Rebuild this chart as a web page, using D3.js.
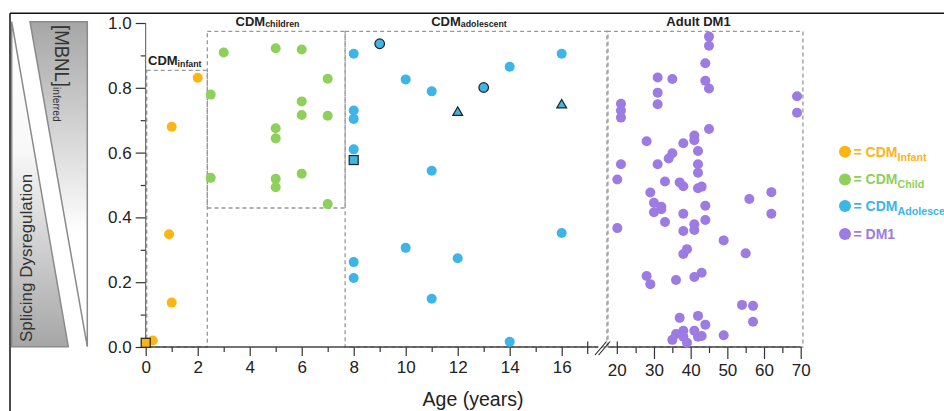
<!DOCTYPE html>
<html>
<head>
<meta charset="utf-8">
<script src="https://cdn.jsdelivr.net/npm/d3@7"></script>
<style>
  body { margin: 0; background: #fff; }
  svg { display: block; font-family: "Liberation Sans", Arial, sans-serif; }
</style>
</head>
<body>
<svg id="chart" width="944" height="411"></svg>
<script>
// ages (years) and inferred [MBNL] per group
const infantPts = [[0.27, 0.02], [1, 0.68], [0.9, 0.348], [1, 0.137], [2, 0.831]];
const infantSquares = [[0, 0.013]];

const childPts = [
    [2.5, 0.779], [3, 0.909], [2.5, 0.522], [5, 0.922], [6, 0.918], [7, 0.828],
    [6, 0.758], [6, 0.716], [7, 0.714], [5, 0.675], [5, 0.644], [5, 0.519],
    [5, 0.493], [6, 0.535], [7, 0.441]
];

const adolPts = [
    [8, 0.905], [16, 0.905], [14, 0.865], [10, 0.826], [11, 0.789], [8, 0.730],
    [8, 0.704], [8, 0.610], [11, 0.544], [16, 0.352], [10, 0.306], [12, 0.274],
    [8, 0.262], [8, 0.213], [11, 0.149], [14, 0.016]
];
const adolCircles = [[9, 0.936], [13, 0.801]];
const adolTriangles = [[12, 0.726], [16, 0.749]];
const adolSquares = [[8, 0.577]];

const dm1Pts = [
    [45, 0.958], [45, 0.930], [44, 0.876], [31, 0.832], [35, 0.827], [44, 0.822],
    [45, 0.798], [31, 0.785], [31, 0.749], [69, 0.774], [69, 0.723], [21, 0.751],
    [21, 0.730], [21, 0.708], [45, 0.673], [41, 0.653], [41, 0.638], [28, 0.635],
    [38, 0.629], [42, 0.605], [35, 0.598], [34, 0.582], [21, 0.564], [31, 0.564],
    [42, 0.564], [42, 0.538], [20, 0.517], [33, 0.511], [37, 0.508], [38, 0.496],
    [42, 0.490], [43, 0.495], [29, 0.477], [62, 0.478], [56, 0.457], [30, 0.445],
    [32, 0.433], [32, 0.425], [30, 0.416], [44, 0.436], [38, 0.411], [62, 0.411],
    [33, 0.386], [44, 0.392], [41, 0.379], [41, 0.361], [38, 0.358], [20, 0.367],
    [49, 0.329], [39, 0.302], [38, 0.287], [55, 0.289], [28, 0.219], [29, 0.194],
    [36, 0.207], [41, 0.216], [43, 0.229], [54, 0.130], [57, 0.127], [57, 0.078],
    [37, 0.090], [42, 0.096], [44, 0.069], [38, 0.050], [36, 0.040], [41, 0.050],
    [42, 0.032], [43, 0.034], [49, 0.036], [35, 0.022], [39, 0.013], [38, 0.032]
];

const yTicks = [0, 0.2, 0.4, 0.6, 0.8, 1.0];
const yMinor = [0.1, 0.3, 0.5, 0.7, 0.9];
const xTicksA = [0, 2, 4, 6, 8, 10, 12, 14, 16];
const xMinorA = [1, 3, 5, 7, 9, 11, 13, 15];
const xTicksB = [30, 40, 50, 60, 70];
const xMinorB = [25, 35, 45, 55, 65];

const groups = ['CDM', 'CDM', 'CDM', 'DM1'];
const groupSubs = ['Infant', 'Child', 'Adolescent', ''];
const colors = ['#FDB515', '#8DD05A', '#3DB5E6', '#9C7BE2'];

const svg = d3.select('#chart');
const defs = svg.append('defs');

const y = d3.scaleLinear().domain([0, 1]).range([347, 23]);
const xA = d3.scaleLinear().domain([0, 17]).range([145.7, 587.7]);
const xB = d3.scaleLinear().domain([20, 70]).range([617.3, 800.7]);

// panel frame
svg.append('line').attr('x1', 10).attr('x2', 944).attr('y1', 13.3).attr('y2', 13.3)
    .attr('stroke', '#111').attr('stroke-width', 1.5);
svg.append('line').attr('x1', 10).attr('x2', 10).attr('y1', 13.3).attr('y2', 411)
    .attr('stroke', '#111').attr('stroke-width', 1.5);

// gradient wedges on the left
let gl = defs.append('linearGradient').attr('id', 'gl')
    .attr('x1', 0).attr('y1', 1).attr('x2', 0).attr('y2', 0);
gl.append('stop').attr('offset', 0).attr('stop-color', '#a6a6a6');
gl.append('stop').attr('offset', 0.6).attr('stop-color', '#f8f8f8');
gl.append('stop').attr('offset', 1).attr('stop-color', '#ffffff');
let gr = defs.append('linearGradient').attr('id', 'gr')
    .attr('x1', 0).attr('y1', 0).attr('x2', 0).attr('y2', 1);
gr.append('stop').attr('offset', 0).attr('stop-color', '#a6a6a6');
gr.append('stop').attr('offset', 0.65).attr('stop-color', '#ffffff');

svg.append('path').attr('d', 'M11.7,21.7 L11.7,346.7 L68.3,346.7 Z')
    .attr('fill', 'url(#gl)').attr('stroke', '#8a8a8a').attr('stroke-width', 1.5);
svg.append('path').attr('d', 'M30,21.7 L87.3,21.7 L87.3,346.7 Z')
    .attr('fill', 'url(#gr)').attr('stroke', '#8a8a8a').attr('stroke-width', 1.5);

svg.append('text').attr('transform', 'translate(32,342) rotate(-90)')
    .attr('font-size', 17).attr('fill', '#333').text('Splicing Dysregulation');

let mb = svg.append('text').attr('transform', 'translate(55,25) rotate(90) scale(0.93,1)')
    .attr('fill', '#333');
mb.append('tspan').attr('font-size', 20).text('[MBNL]');
mb.append('tspan').attr('font-size', 11).attr('dy', 1.5).text('inferred');

// dashed group boxes
const boxes = [
    { x0: xA(0.04), x1: xA(2.37), y0: y(0), y1: y(0.854) },
    { x0: xA(2.37), x1: xA(7.67), y0: y(0.429), y1: y(0.974) },
    { x0: xA(7.67), x1: xA(17.78), y0: y(0), y1: y(0.974) },
    { x0: xA(17.74), x1: xB(70.6), y0: y(0), y1: y(0.974) }
];
svg.append('g').selectAll('rect').data(boxes).enter().append('rect')
    .attr('x', d => d.x0).attr('y', d => d.y1)
    .attr('width', d => d.x1 - d.x0).attr('height', d => d.y0 - d.y1)
    .attr('fill', 'none').attr('stroke', '#999').attr('stroke-width', 1.3)
    .attr('stroke-dasharray', '4,3');

// box titles
function title(x, yy, anchor, main, sub) {
    let t = svg.append('text').attr('x', x).attr('y', yy).attr('text-anchor', anchor)
        .attr('font-weight', 'bold').attr('fill', '#222');
    t.append('tspan').attr('font-size', 13).text(main);
    if (sub) t.append('tspan').attr('font-size', 8.8).attr('dy', 1.5).text(sub);
}
title(148, 65, 'start', 'CDM', 'infant');
title(267.5, 25.7, 'middle', 'CDM', 'children');
title(469, 25.7, 'middle', 'CDM', 'adolescent');
title(698.5, 25.5, 'middle', 'Adult DM1', '');

// axes
const axisColor = '#333';
function styleAxis(g) {
    g.select('.domain').remove();
    g.selectAll('line').attr('stroke', axisColor).attr('stroke-width', 1.2);
    g.selectAll('text').attr('fill', '#222').attr('font-size', 17)
        .attr('font-family', '"Liberation Sans", Arial, sans-serif');
}

let ya = svg.append('g').attr('transform', 'translate(145.7,0)')
    .call(d3.axisLeft(y).tickValues(yTicks).tickFormat(d3.format('.1f')).tickSize(10).tickPadding(4));
styleAxis(ya);
let ym = svg.append('g').attr('transform', 'translate(145.7,0)')
    .call(d3.axisLeft(y).tickValues(yMinor).tickFormat('').tickSize(5));
styleAxis(ym);
svg.append('line').attr('x1', 145.7).attr('x2', 145.7).attr('y1', y(1)).attr('y2', y(0))
    .attr('stroke', '#555').attr('stroke-width', 1);

let xa = svg.append('g').attr('transform', 'translate(0,347)')
    .call(d3.axisBottom(xA).tickValues(xTicksA).tickSize(9).tickPadding(5));
styleAxis(xa);
let xam = svg.append('g').attr('transform', 'translate(0,347)')
    .call(d3.axisBottom(xA).tickValues(xMinorA).tickFormat('').tickSize(5));
styleAxis(xam);
let xb = svg.append('g').attr('transform', 'translate(0,347)')
    .call(d3.axisBottom(xB).tickValues(xTicksB).tickSize(12).tickPadding(5));
styleAxis(xb);
let xbm = svg.append('g').attr('transform', 'translate(0,347)')
    .call(d3.axisBottom(xB).tickValues(xMinorB).tickFormat('').tickSize(6));
styleAxis(xbm);
// 20 label sits under the segment start cap
svg.append('text').attr('x', xB(20)).attr('y', 376).attr('text-anchor', 'middle')
    .attr('font-size', 17).attr('fill', '#222').text('20');

// axis lines with break
svg.append('line').attr('x1', xA(0)).attr('x2', xA(17.4)).attr('y1', 347).attr('y2', 347)
    .attr('stroke', '#444').attr('stroke-width', 1.3);
svg.append('line').attr('x1', xB(17.5)).attr('x2', xB(70)).attr('y1', 347).attr('y2', 347)
    .attr('stroke', '#444').attr('stroke-width', 1.3);
[xA(17), xB(20)].forEach(px => {
    svg.append('line').attr('x1', px).attr('x2', px).attr('y1', 341.5).attr('y2', 354)
        .attr('stroke', axisColor).attr('stroke-width', 1.2);
});
[0, 3.6].forEach(o => {
    svg.append('line').attr('x1', 595 + o).attr('y1', 355).attr('x2', 606.5 + o).attr('y2', 341.5)
        .attr('stroke', '#222').attr('stroke-width', 1.1);
});

svg.append('text').attr('x', 473).attr('y', 406).attr('text-anchor', 'middle')
    .attr('font-size', 19.5).attr('fill', '#222').text('Age (years)');

// points
function dots(data, sx, color) {
    svg.append('g').selectAll('circle').data(data).enter().append('circle')
        .attr('cx', d => sx(d[0])).attr('cy', d => y(d[1])).attr('r', 5)
        .attr('fill', color);
}
dots(infantPts, xA, colors[0]);
dots(childPts, xA, colors[1]);
dots(adolPts, xA, colors[2]);
dots(dm1Pts, xB, colors[3]);

function squares(data, color) {
    svg.append('g').selectAll('rect').data(data).enter().append('rect')
        .attr('x', d => xA(d[0]) - 4.5).attr('y', d => y(d[1]) - 4.5)
        .attr('width', 9).attr('height', 9)
        .attr('fill', color).attr('stroke', '#222').attr('stroke-width', 1.2);
}
squares(infantSquares, colors[0]);
squares(adolSquares, colors[2]);

svg.append('g').selectAll('circle').data(adolCircles).enter().append('circle')
    .attr('cx', d => xA(d[0])).attr('cy', d => y(d[1])).attr('r', 4.8)
    .attr('fill', colors[2]).attr('stroke', '#222').attr('stroke-width', 1.2);

const tri = d3.symbol().type(d3.symbolTriangle).size(42);
svg.append('g').selectAll('path').data(adolTriangles).enter().append('path')
    .attr('d', tri)
    .attr('transform', d => `translate(${xA(d[0])},${y(d[1]) + 0.8})`)
    .attr('fill', colors[2]).attr('stroke', '#222').attr('stroke-width', 1.2);

// legend (last label runs off the right edge, as in the source figure)
const legendY = [151.7, 179.5, 206, 234];
groups.forEach((g, i) => {
    svg.append('circle').attr('cx', 845).attr('cy', legendY[i]).attr('r', 6)
        .attr('fill', colors[i]);
    let t = svg.append('text').attr('x', 853.5).attr('y', legendY[i] + 4.8)
        .attr('font-weight', 'bold').attr('fill', colors[i]);
    t.append('tspan').attr('font-size', 14).text('= ' + g);
    if (groupSubs[i]) {
        t.append('tspan').attr('font-size', 10.7).attr('dy', 4).text(groupSubs[i]);
    }
});
</script>
</body>
</html>
